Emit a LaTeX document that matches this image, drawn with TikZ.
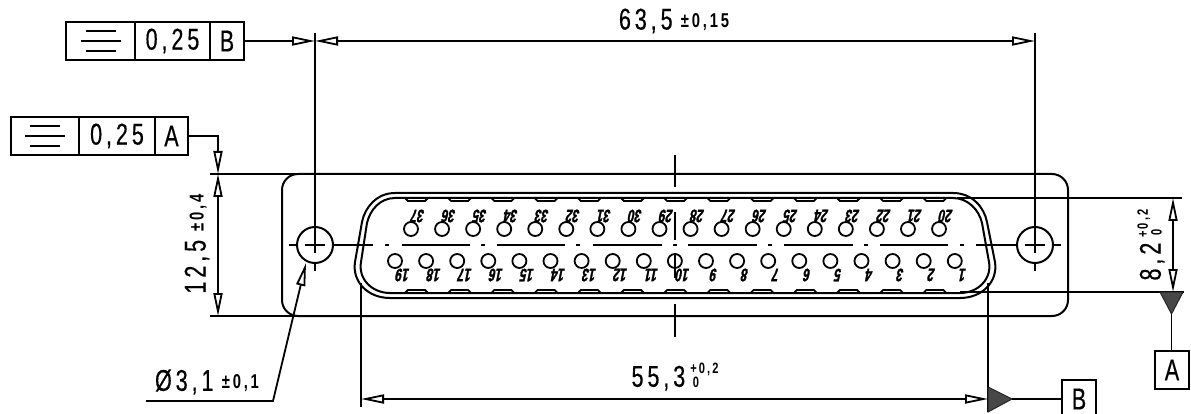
\documentclass[tikz,border=0pt]{standalone}
\usepackage{fontspec}
\setmainfont{Liberation Sans}
\newfontfamily\dimfont{Liberation Sans}[FakeStretch=0.72,LetterSpace=13,FakeBold=0.4]
\newfontfamily\tolfont{Liberation Sans Bold}[FakeStretch=0.74,LetterSpace=14]
\newfontfamily\numfont{Liberation Sans Bold}[FakeStretch=0.66,FakeBold=1.6]
\usetikzlibrary{arrows.meta}
\newcommand{\dimsize}{\dimfont\fontsize{30}{30}\selectfont}
\newcommand{\tolsize}{\tolfont\fontsize{20}{20}\selectfont}
\newcommand{\stack}{\raisebox{-1pt}{\tolfont\fontsize{15}{15}\selectfont\shortstack[l]{+0,2\\[-2pt]\,0}}}
\tikzset{
  part/.style={line width=2pt},
  thin part/.style={line width=1.8pt},
  dim/.style={line width=1.8pt, {Triangle[open,length=23pt,width=9pt,fill=white]}-{Triangle[open,length=23pt,width=9pt,fill=white]}},
  single/.style={line width=1.8pt, -{Triangle[open,length=23pt,width=9pt,fill=white]}},
  cell/.style={draw, line width=2pt, minimum height=38pt, inner sep=0pt, font=\dimsize},
  datum/.style={draw, line width=2pt, inner sep=0pt, minimum width=34pt, minimum height=38pt, font=\dimsize},
  label/.style={inner sep=0pt, font=\dimsize},
  pin/.style={circle, draw, line width=1.8pt, minimum size=14pt, inner sep=0pt},
  pinnum/.style={inner sep=0pt, rotate=180, xslant=0.2, font=\numfont\fontsize{18}{18}\selectfont},
  hole/.style={circle, draw, line width=2pt, minimum size=36pt, inner sep=0pt},
  wedge/.style={fill=black!72, draw=black!85, line width=1pt},
}
\newcommand{\flatsym}[1]{
  \draw[part] ([shift={(-15pt,10pt)}]#1.center) -- ([shift={(15pt,10pt)}]#1.center);
  \draw[part] ([shift={(-20pt,0pt)}]#1.center) -- ([shift={(20pt,0pt)}]#1.center);
  \draw[part] ([shift={(-15pt,-10pt)}]#1.center) -- ([shift={(15pt,-10pt)}]#1.center);
}
\begin{document}
\begin{tikzpicture}[x=1pt,y=-1pt]
  \useasboundingbox (0,0) rectangle (1191,414);
  % flange
  \draw[part, rounded corners=16pt] (282,174) rectangle (1068,316);
  % shell
  \draw[part] (395,193) -- (953,193) .. controls (972,193) and (984,207) .. (987,222) -- (995,262)
    .. controls (998,282) and (982,298) .. (960,298) -- (390,298)
    .. controls (368,298) and (352,282) .. (355,262) -- (362,222)
    .. controls (365,207) and (377,193) .. (395,193) -- cycle;
  \draw[part] (395,198) -- (953,198) .. controls (968,198) and (979,210) .. (982,223) -- (989,262)
    .. controls (992,279) and (978,293) .. (960,293) -- (390,293)
    .. controls (372,293) and (358,279) .. (361,262) -- (367,223)
    .. controls (370,210) and (380,198) .. (395,198) -- cycle;
  % tabs
  \foreach \i in {0,...,12} {
    \pgfmathsetmacro{\tx}{405+43.2*\i}
    \draw[thin part] (\tx,198) -- (\tx+3,201) -- (\tx+20,201) -- (\tx+23,198);
    \draw[thin part] (\tx,293) -- (\tx+3,290) -- (\tx+20,290) -- (\tx+23,293);
  }
  % pins
  \foreach \n [count=\i from 0] in {37,36,...,20} {
    \pgfmathsetmacro{\px}{411+31.06*\i}
    \node[pin] (p\n) at (\px,229) {};
    \node[pinnum] (t\n) at (\px+6,216) {\n};
  }
  \foreach \n [count=\i from 0] in {19,18,...,1} {
    \pgfmathsetmacro{\px}{395+31.1*\i}
    \node[pin] (p\n) at (\px,261) {};
    \node[pinnum] (t\n) at (\px+7,275) {\n};
  }
  % holes
  \node[hole] (hl) at (315,245) {};
  \node[hole] (hr) at (1035,245) {};
  % center lines
  \draw[thin part] (289,245) -- (297,245) (305,245) -- (325,245) (333,245) -- (373,245) (385,245) -- (389,245);
  \foreach \a/\b in {402/470,497/565,593/662,688/757,784/853,880/948,976/1017,1025/1045,1053/1061} {
    \draw[thin part] (\a,245) -- (\b,245);
  }
  \foreach \a in {483,578,675,770,866,962} {
    \draw[thin part] (\a-2,245) -- (\a+2,245);
  }
  \draw[thin part] (675,155) -- (675,187) (675,212) -- (675,240) (675,253) -- (675,278) (675,304) -- (675,337);
  \draw[thin part] (315,263) -- (315,271) (1035,263) -- (1035,271);
  % extension lines
  \coordinate (e1) at (315,33);
  \coordinate (e2) at (315,253);
  \coordinate (e3) at (1035,33);
  \coordinate (e4) at (1035,253);
  \coordinate (e5) at (361,283);
  \coordinate (e6) at (361,407);
  \coordinate (e7) at (988,283);
  \coordinate (e8) at (988,412);
  \coordinate (e9) at (210,174);
  \coordinate (e10) at (1052,174);
  \coordinate (e11) at (210,316);
  \coordinate (e12) at (1052,316);
  \coordinate (e13) at (957,198);
  \coordinate (e14) at (1182,198);
  \coordinate (e15) at (960,292);
  \coordinate (e16) at (1184,292);
  \draw[thin part] (e1) -- (e2);
  \draw[thin part] (e3) -- (e4);
  \draw[thin part] (e5) -- (e6);
  \draw[thin part] (e7) -- (e8);
  \draw[thin part] (e9) -- (e10);
  \draw[thin part] (e11) -- (e12);
  \draw[thin part] (e13) -- (e14);
  \draw[thin part] (e15) -- (e16);
  % dimensions
  \coordinate (w1) at (315,41);
  \coordinate (w2) at (1035,41);
  \draw[dim] (w1) -- (w2);
  \coordinate (w3) at (361,399);
  \coordinate (w4) at (988,399);
  \draw[dim] (w3) -- (w4);
  \coordinate (h1) at (218,174);
  \coordinate (h2) at (218,316);
  \draw[dim] (h1) -- (h2);
  \coordinate (h3) at (1173,198);
  \coordinate (h4) at (1173,292);
  \draw[dim] (h3) -- (h4);
  \node[label] (d1) at (674,21) {63,5\;\raisebox{2pt}{\tolsize ±0,15}};
  \node[label] (d2) at (675,377) {55,3\,\stack};
  \node[label, rotate=90] (d3) at (197,244) {12,5\;\raisebox{2pt}{\tolsize ±0,4}};
  \node[label, rotate=90] (d4) at (1151,245) {8,2\,\stack};
  % tolerance frames
  \node[cell, minimum width=69pt] (fb1) at (100.5,41) {};
  \node[cell, minimum width=75pt] (fb2) at (172.5,41) {0,25};
  \node[cell, minimum width=34pt] (fb3) at (227,41) {B};
  \flatsym{fb1}
  \node[cell, minimum width=68pt] (fa1) at (45,136) {};
  \node[cell, minimum width=76pt] (fa2) at (117,136) {0,25};
  \node[cell, minimum width=33pt] (fa3) at (171.5,136) {A};
  \flatsym{fa1}
  \coordinate (b1) at (315,41);
  \draw[single] (fb3.east) -- (b1);
  \coordinate (a1) at (218,136);
  \coordinate (a2) at (218,174);
  \draw[single] (fa3.east) -- (a1) -- (a2);
  % datums
  \node[datum] (da) at (1172,370) {A};
  \node[datum] (db) at (1079,399) {B};
  \draw[wedge] (1160,292) -- (1183,292) -- (1171.5,314) coordinate (tatip) -- cycle;
  \draw[thin part] (tatip) -- (da.north -| tatip);
  \draw[wedge] (988,387) -- (988,412) -- (1012,399) coordinate (tbtip) -- cycle;
  \draw[thin part] (tbtip) -- (db.west |- tbtip);
  % diameter
  \coordinate (l1) at (146,401);
  \coordinate (l2) at (273,401);
  \coordinate (l3) at (306,263);
  \draw[single] (l1) -- (l2) -- (l3);
  \node[label] (d5) at (207,382) {Ø3,1\;\raisebox{2pt}{\tolsize ±0,1}};
\end{tikzpicture}
\end{document}
